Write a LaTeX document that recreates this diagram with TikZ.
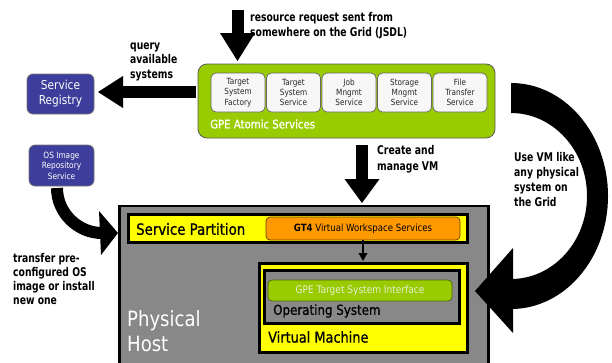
\documentclass[tikz,border=0pt]{standalone}
\usepackage{fontspec}
\usetikzlibrary{calc}
\newfontfamily\rfam{DejaVu Sans}[FakeStretch=0.86]
\newfontfamily\mfam{DejaVu Sans}[FakeStretch=0.86, FakeBold=0.9]
\newfontfamily\bfam{DejaVu Sans}[FakeStretch=0.77]
\definecolor{gpegreen}{HTML}{99CC00}
\definecolor{regblue}{HTML}{3D3D9C}
\definecolor{gtorange}{HTML}{FF9900}
\definecolor{hostgray}{HTML}{888888}
\definecolor{partyellow}{HTML}{FFFF00}
\definecolor{boxwhite}{HTML}{F7F7F7}
\definecolor{paletext}{HTML}{E6EED2}
\tikzset{
  box/.style={anchor=north west, inner sep=0pt, outer sep=0pt},
  gpebox/.style={box, draw=black!65, line width=0.8pt, fill=gpegreen, rounded corners=9pt},
  svcbox/.style={box, draw=black!60, line width=0.7pt, fill=boxwhite, rounded corners=5pt,
    minimum width=54pt, minimum height=39pt},
  svctext/.style={align=center, font=\fontsize{8.5}{10.3}\rfam, text=black!85},
  bluebox/.style={box, draw=black!55, line width=0.7pt, fill=regblue, rounded corners=6pt},
  heavy/.style={box, draw=black, line width=3pt},
  label/.style={anchor=west, align=left, inner sep=0pt, font=\fontsize{12}{15}\bfam\bfseries},
  shaft/.style={line width=12pt},
}
\begin{document}
\begin{tikzpicture}[x=1pt,y=-1pt]
\useasboundingbox (0,0) rectangle (612,362);
\clip (0,0) rectangle (612,362);

% ---------- GPE atomic services ----------
\node[gpebox, minimum width=297pt, minimum height=74pt] (gpe) at (198,64) {};
\node[anchor=west, inner sep=0pt, text=white, font=\fontsize{11.8}{14}\mfam] (gpelbl) at (210,124) {GPE Atomic Services};
\node[svcbox] (tsf) at (211,73) {};
\node[svctext] at (tsf.center) {Target\\System\\Factory};
\node[svcbox] (tss) at (266.5,73) {};
\node[svctext] at (tss.center) {Target\\System\\Service};
\node[svcbox] (jms) at (322,73) {};
\node[svctext] at (jms.center) {Job\\Mngmt\\Service};
\node[svcbox] (sms) at (377.5,73) {};
\node[svctext] at (sms.center) {Storage\\Mngmt\\Service};
\node[svcbox] (fts) at (433,73) {};
\node[svctext] at (fts.center) {File\\Transfer\\Service};

% ---------- registries ----------
\node[bluebox, minimum width=67pt, minimum height=40pt] (reg) at (27,74) {};
\node[align=center, text=white, font=\fontsize{12.3}{15}\rfam] at (reg.center) {Service\\Registry};
\node[bluebox, minimum width=65pt, minimum height=41pt] (osrep) at (29,145) {};
\node[align=center, text=white, font=\fontsize{8.6}{10.5}\rfam] at (osrep.center) {OS Image\\Repository\\Service};

% ---------- physical host ----------
\node[box, draw=black, line width=2.5pt, fill=hostgray, minimum width=369pt, minimum height=170pt] (host) at (119.5,206) {};
\node[anchor=west, align=left, inner sep=0pt, text=white, font=\fontsize{21}{25}\rfam] (hostlbl) at (127,331) {Physical\\Host};

\node[heavy, fill=partyellow, minimum width=339pt, minimum height=28pt] (part) at (128.5,214.5) {};
\node[anchor=west, inner sep=0pt, font=\fontsize{15.5}{18}\mfam] (partlbl) at (136,229) {Service Partition};
\node[box, draw=black!60!gtorange, line width=0.7pt, fill=gtorange, rounded corners=4pt, minimum width=194pt, minimum height=23pt] (gt4) at (266,217) {};
\node[inner sep=0pt, font=\fontsize{10}{12}\rfam] at (gt4.center) {\textbf{GT4} Virtual Workspace Services};

\node[heavy, fill=partyellow, minimum width=208pt, minimum height=89pt] (vm) at (259.5,263.5) {};
\node[anchor=west, inner sep=0pt, font=\fontsize{15}{18}\mfam] (vmlbl) at (268,337) {Virtual Machine};
\node[heavy, fill=hostgray, minimum width=195pt, minimum height=53pt] (os) at (264.5,270.5) {};
\node[anchor=west, inner sep=0pt, font=\fontsize{13.8}{16}\mfam] (oslbl) at (273,311) {Operating System};
\node[box, draw=black!50!gpegreen, line width=0.7pt, fill=gpegreen, rounded corners=4pt, minimum width=184pt, minimum height=21pt] (tsi) at (268,280) {};
\node[inner sep=0pt, text=paletext, font=\fontsize{10.5}{12}\rfam] at (tsi.center) {GPE Target System Interface};

% GT4 services drive the virtual machine
\draw[line width=2pt] (gt4.south) -- ($(gt4.south)+(0,14)$);
\fill ($(gt4.south)+(-4.5,13)$) -- ($(gt4.south)+(0,21)$) -- ($(gt4.south)+(4.5,13)$) -- cycle;

% ---------- block arrows ----------
% incoming resource request
\coordinate (reqS) at (237.5,10);
\coordinate (reqT) at ($(reqS |- gpe.north)+(0,-3)$);
\draw[shaft] (reqS) -- ($(reqT)+(0,-27)$);
\fill ($(reqT)+(-17.5,-28)$) -- (reqT) -- ($(reqT)+(17.5,-28)$) -- cycle;

% query to the registry
\coordinate (qS) at (196,92);
\coordinate (qT) at ($(reg.east |- qS)+(4,0)$);
\draw[shaft] (qS) -- ($(qT)+(24,0)$);
\fill ($(qT)+(25,-16)$) -- (qT) -- ($(qT)+(25,16)$) -- cycle;

% create and manage VM
\coordinate (cS) at (362,145);
\coordinate (cT) at ($(cS |- host.north)+(0,-3)$);
\draw[shaft] (cS) -- ($(cT)+(0,-23)$);
\fill ($(cT)+(-17.5,-24)$) -- (cT) -- ($(cT)+(17.5,-24)$) -- cycle;

% OS image transfer
\coordinate (tS) at (57,188);
\coordinate (tE) at (102,233);
\draw[shaft] (tS) .. controls (57,213) and (78,233) .. (tE);
\fill (99,211) -- (118,233) -- (101,255) -- cycle;

% use the VM from the Grid
\fill (511,83) .. controls (564.6,83) and (608,133.6) .. (608,196)
      .. controls (608,258.4) and (564.6,309) .. (511,309)
      -- (511,279) .. controls (553,279) and (587,241.8) .. (587,196)
      .. controls (587,150.2) and (553,113) .. (511,113) -- cycle;
\fill (513,248) -- (475,291) -- (513,333) -- cycle;

% ---------- labels ----------
\node[label] (reqlbl) at (250,25.5) {resource request sent from\\somewhere on the Grid (JSDL)};
\node[label, font=\fontsize{12}{14.5}\bfam\bfseries] (qlbl) at (130,61.5) {query\\available\\systems};
\node[label, font=\fontsize{12}{15.5}\bfam\bfseries] (clbl) at (377,159) {Create and\\manage VM};
\node[label] (ulbl) at (514,179.5) {Use VM like\\any physical\\system on\\the Grid};
\node[label, font=\fontsize{12}{14.3}\bfam\bfseries] (tlbl) at (13,279) {transfer pre-\\configured OS\\image or install\\new one};
\end{tikzpicture}
\end{document}
